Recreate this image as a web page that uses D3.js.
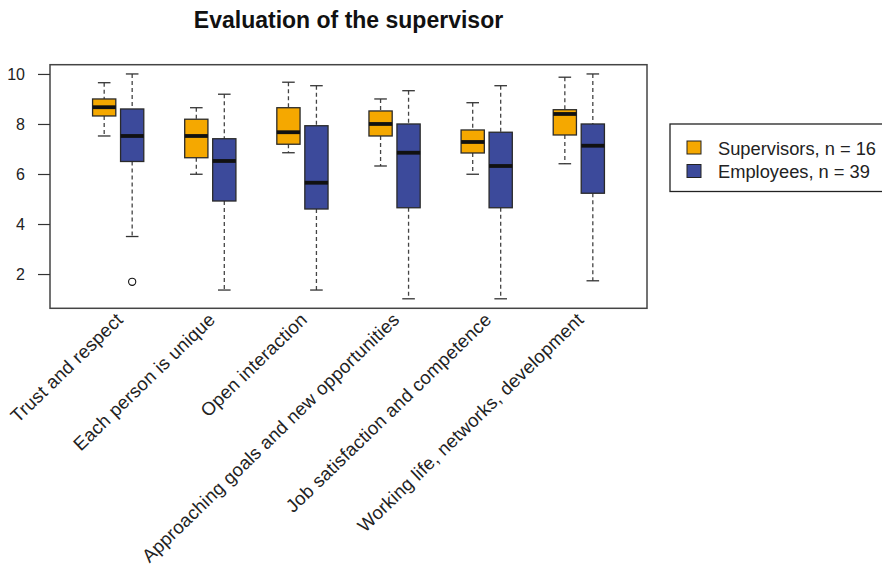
<!DOCTYPE html>
<html>
<head>
<meta charset="utf-8">
<script src="https://cdn.jsdelivr.net/npm/d3@7/dist/d3.min.js"></script>
<style>
  html, body { margin: 0; padding: 0; background: #fff; }
  svg { display: block; font-family: "Liberation Sans", Arial, sans-serif; }
</style>
</head>
<body>
<svg id="chart" width="882" height="566"></svg>
<script>
const categories = ["Trust and respect", "Each person is unique", "Open interaction",
  "Approaching goals and new opportunities", "Job satisfaction and competence",
  "Working life, networks, development"];
const seriesNames = ["Supervisors", "Employees"];
const legendLabels = ["Supervisors, n = 16", "Employees, n = 39"];
const yTicks = [2, 4, 6, 8, 10];

// Supervisors
const supLow    = [7.52, 5.99, 6.85, 6.32, 5.99, 6.41];
const supQ1     = [8.32, 6.65, 7.19, 7.52, 6.84, 7.56];
const supMedian = [8.67, 7.52, 7.67, 8.00, 7.28, 8.40];
const supQ3     = [9.00, 8.19, 8.65, 8.52, 7.76, 8.57];
const supHigh   = [9.65, 8.65, 9.67, 9.00, 8.85, 9.87];
// Employees
const empLow    = [3.50, 1.36, 1.36, 1.01, 1.01, 1.73];
const empQ1     = [6.50, 4.92, 4.60, 4.65, 4.65, 5.23];
const empMedian = [7.52, 6.52, 5.65, 6.85, 6.32, 7.13];
const empQ3     = [8.60, 7.41, 7.93, 8.00, 7.67, 8.00];
const empHigh   = [10.0, 9.19, 9.53, 9.33, 9.53, 10.0];
// Outliers: [category index, value]
const empOutliers = [[0, 1.69]];
const supOutliers = [];

const colors = {Supervisors: "#f5a800", Employees: "#3c4a9b"};

const svg = d3.select("#chart");
const plot = {left: 50, right: 647, top: 64.7, bottom: 308.3};

const x = d3.scaleBand().domain(categories).range([plot.left, plot.right])
  .paddingInner(0).paddingOuter(0.24);
const xs = d3.scalePoint().domain(seriesNames).range([0, x.bandwidth()]).padding(1.146);
const y = d3.scaleLinear().domain([0.63, 10.37]).range([plot.bottom, plot.top]);

const boxW = xs.step() * 0.83;

const stats = [];
categories.forEach((c, i) => {
  stats.push({cat: c, s: "Supervisors", lo: supLow[i], q1: supQ1[i], med: supMedian[i], q3: supQ3[i], hi: supHigh[i]});
  stats.push({cat: c, s: "Employees", lo: empLow[i], q1: empQ1[i], med: empMedian[i], q3: empQ3[i], hi: empHigh[i]});
});
const cx = d => x(d.cat) + xs(d.s);

// Title
svg.append("text").attr("x", (plot.left + plot.right) / 2).attr("y", 27.5)
  .attr("text-anchor", "middle").attr("font-weight", "bold").attr("font-size", 23)
  .attr("fill", "#111").text("Evaluation of the supervisor");

const g = svg.append("g");
const boxes = g.selectAll("g.box").data(stats).enter().append("g").attr("class", "box");

// whiskers (dashed)
boxes.append("line").attr("x1", cx).attr("x2", cx)
  .attr("y1", d => y(d.hi)).attr("y2", d => y(d.q3))
  .attr("stroke", "#444").attr("stroke-width", 1.3).attr("stroke-dasharray", "4,3");
boxes.append("line").attr("x1", cx).attr("x2", cx)
  .attr("y1", d => y(d.q1)).attr("y2", d => y(d.lo))
  .attr("stroke", "#444").attr("stroke-width", 1.3).attr("stroke-dasharray", "4,3");
// caps
boxes.append("line").attr("x1", d => cx(d) - 6.3).attr("x2", d => cx(d) + 6.3)
  .attr("y1", d => y(d.hi)).attr("y2", d => y(d.hi)).attr("stroke", "#333").attr("stroke-width", 1.3);
boxes.append("line").attr("x1", d => cx(d) - 6.3).attr("x2", d => cx(d) + 6.3)
  .attr("y1", d => y(d.lo)).attr("y2", d => y(d.lo)).attr("stroke", "#333").attr("stroke-width", 1.3);
// box
boxes.append("rect").attr("x", d => cx(d) - boxW / 2).attr("width", boxW)
  .attr("y", d => y(d.q3)).attr("height", d => y(d.q1) - y(d.q3))
  .attr("fill", d => colors[d.s]).attr("stroke", "#2a2a2a").attr("stroke-width", 1.3);
// median
boxes.append("line").attr("x1", d => cx(d) - boxW / 2).attr("x2", d => cx(d) + boxW / 2)
  .attr("y1", d => y(d.med)).attr("y2", d => y(d.med))
  .attr("stroke", "#111").attr("stroke-width", 3.8);

// outliers
const outl = [];
empOutliers.forEach(o => outl.push({cat: categories[o[0]], s: "Employees", v: o[1]}));
supOutliers.forEach(o => outl.push({cat: categories[o[0]], s: "Supervisors", v: o[1]}));
g.selectAll("circle.out").data(outl).enter().append("circle")
  .attr("cx", cx).attr("cy", d => y(d.v)).attr("r", 3.6)
  .attr("fill", "#fff").attr("stroke", "#111").attr("stroke-width", 1.1);

// frame
svg.append("rect").attr("x", plot.left).attr("y", plot.top)
  .attr("width", plot.right - plot.left).attr("height", plot.bottom - plot.top)
  .attr("fill", "none").attr("stroke", "#444").attr("stroke-width", 1.5);

// y axis
const yAxis = d3.axisLeft(y).tickValues(yTicks).tickSize(12).tickPadding(13).tickFormat(d3.format("d"));
const ya = svg.append("g").attr("transform", `translate(${plot.left},0)`).call(yAxis);
ya.select(".domain").remove();
ya.selectAll(".tick line").attr("stroke", "#333").attr("stroke-width", 1.2);
ya.selectAll(".tick text").attr("font-size", 16).attr("fill", "#222")
  .attr("font-family", "'Liberation Sans', Arial, sans-serif");

// x labels rotated
svg.append("g").selectAll("text").data(categories).enter().append("text")
  .attr("transform", d => `translate(${x(d) + x.bandwidth() / 2 + 6},321) rotate(-44)`)
  .attr("text-anchor", "end").attr("font-size", 18.5).attr("letter-spacing", 0.25)
  .attr("fill", "#222").text(d => d);

// legend
const lg = svg.append("g");
lg.append("rect").attr("x", 670).attr("y", 124).attr("width", 230).attr("height", 67.5)
  .attr("fill", "#fff").attr("stroke", "#222").attr("stroke-width", 1.3);
seriesNames.forEach((s, i) => {
  lg.append("rect").attr("x", 687).attr("y", 141 + i * 23.5).attr("width", 14).attr("height", 13)
    .attr("fill", colors[s]).attr("stroke", "#222").attr("stroke-width", 1);
  lg.append("text").attr("x", 718).attr("y", 155 + i * 23).attr("font-size", 18.3)
    .attr("fill", "#222").text(legendLabels[i]);
});
</script>
</body>
</html>
